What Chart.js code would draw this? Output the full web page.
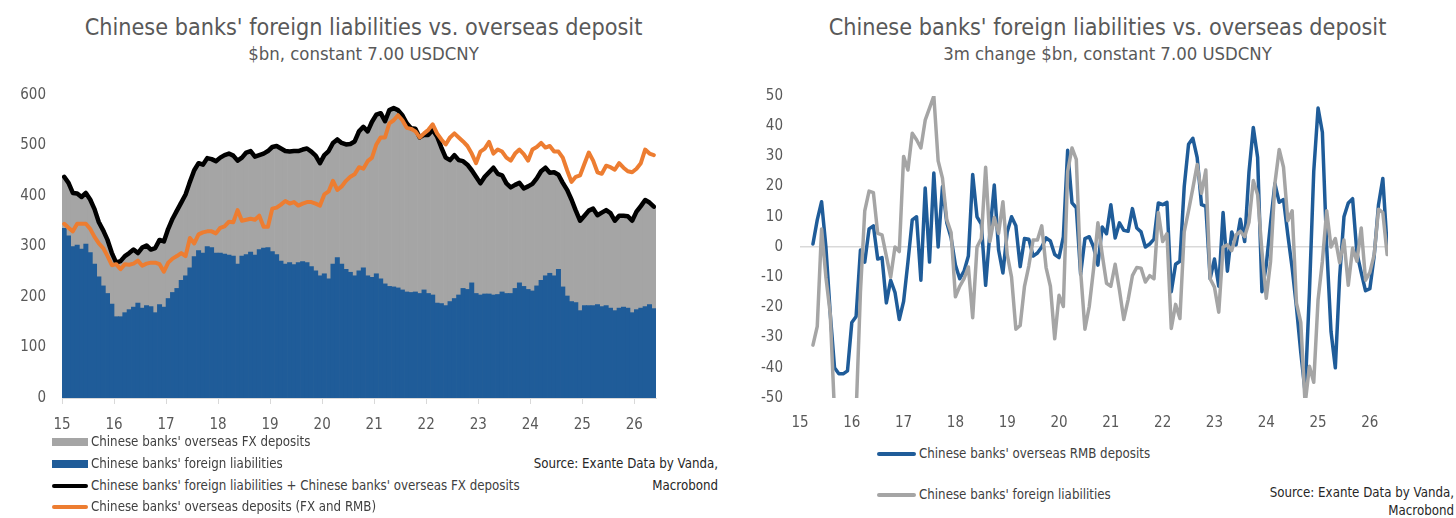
<!DOCTYPE html>
<html>
<head>
<meta charset="utf-8">
<script src="https://cdn.jsdelivr.net/npm/chart.js@4.4.1/dist/chart.umd.min.js"></script>
<style>
  body { margin: 0; width: 1456px; height: 518px; background: #fff; position: relative; overflow: hidden;
         font-family: "Liberation Sans Narrow", "DejaVu Sans Condensed", sans-serif; color: #595959; }
  .title { position: absolute; font-size: 23.2px; line-height: 28px; text-align: center; white-space: nowrap; }
  .sub { position: absolute; font-size: 18.4px; line-height: 22px; text-align: center; white-space: nowrap; }
  .box { position: absolute; }
  .leg { position: absolute; font-size: 13.2px; line-height: 18px; color: #404040; white-space: nowrap; }
  .leg i { position: absolute; display: block; }
  .src { position: absolute; font-size: 13.2px; color: #262626; text-align: right; white-space: nowrap; }
</style>
</head>
<body>
<div class="title" style="left:0; width:727px; top:13px;">Chinese banks' foreign liabilities vs. overseas deposit</div>
<div class="sub" style="left:0; width:727px; top:43px;">$bn, constant 7.00 USDCNY</div>
<div class="title" style="left:754px; width:707px; top:13px;">Chinese banks' foreign liabilities vs. overseas deposit</div>
<div class="sub" style="left:754px; width:707px; top:43px;">3m change $bn, constant 7.00 USDCNY</div>

<div class="box" style="left:0; top:70px;"><canvas id="levels" width="680" height="368"></canvas></div>
<div class="box" style="left:730px; top:70px;"><canvas id="changes" width="726" height="368"></canvas></div>

<div id="legendLeft"></div>
<div id="legendRight"></div>

<div class="src" style="right:738px; top:453px; line-height:22px;">Source: Exante Data by Vanda,<br>Macrobond</div>
<div class="src" style="right:2px; top:484px; line-height:18px;">Source: Exante Data by Vanda,<br>Macrobond</div>

<script>
// monthly, Jan 2015 - May 2026, $bn
const foreignLiab = [
  336, 321, 300, 303, 295, 305, 288, 265, 240, 222, 207, 186,
  161, 161, 169, 175, 180, 188, 178, 183, 181, 169, 185, 180,
  197, 209, 217, 233, 242, 258, 280, 292, 287, 300, 298, 287,
  287, 285, 283, 281, 265, 281, 284, 289, 283, 294, 297, 298,
  290, 284, 271, 265, 268, 264, 268, 270, 268, 260, 252, 242,
  246, 236, 265, 278, 265, 255, 249, 242, 252, 258, 242, 239,
  246, 236, 226, 221, 220, 218, 214, 210, 209, 210, 207, 214,
  207, 204, 188, 187, 183, 191, 197, 204, 217, 215, 228, 207,
  204, 206, 206, 204, 205, 210, 207, 207, 217, 228, 221, 215,
  212, 222, 233, 242, 247, 242, 255, 220, 202, 191, 189, 173,
  183, 183, 183, 185, 181, 183, 178, 173, 178, 180, 178, 169,
  175, 178, 181, 185, 177
];
// foreign liabilities + overseas FX deposits
const liabPlusFx = [
  438, 426, 406, 405, 398, 406, 393, 374, 348, 332, 313, 287,
  268, 271, 281, 287, 294, 287, 298, 302, 294, 297, 313, 310,
  335, 355, 371, 387, 403, 428, 451, 465, 462, 475, 473, 469,
  476, 481, 484, 480, 470, 476, 486, 489, 478, 481, 484, 489,
  497, 499, 494, 489, 488, 489, 489, 492, 494, 488, 480, 465,
  481, 489, 505, 512, 505, 502, 503, 508, 528, 537, 528, 547,
  561, 564, 548, 570, 574, 570, 560, 544, 534, 533, 516, 521,
  521, 531, 518, 496, 476, 471, 481, 471, 469, 462, 451, 438,
  425, 438, 447, 456, 444, 441, 425, 417, 422, 426, 415, 419,
  424, 435, 449, 456, 446, 447, 442, 426, 412, 393, 371, 351,
  361, 371, 375, 362, 367, 372, 366, 351, 361, 361, 360, 351,
  369, 380, 392, 387, 379
];
// overseas deposits (FX and RMB)
const depositsAll = [
  345, 337, 330, 345, 345, 345, 335, 319, 306, 297, 281, 263,
  265, 255, 265, 264, 266, 272, 262, 266, 268, 268, 265, 250,
  268, 276, 281, 287, 281, 317, 306, 324, 328, 330, 330, 326,
  337, 340, 349, 348, 372, 351, 353, 355, 353, 361, 339, 339,
  375, 377, 383, 390, 385, 388, 381, 385, 388, 388, 385, 381,
  403, 409, 430, 412, 419, 430, 438, 443, 457, 454, 469, 476,
  502, 516, 516, 544, 550, 560, 550, 535, 533, 528, 516, 524,
  531, 542, 524, 512, 502, 516, 524, 516, 508, 499, 484, 465,
  488, 494, 507, 484, 492, 488, 476, 470, 484, 492, 483, 470,
  492, 497, 505, 496, 499, 488, 488, 476, 451, 428, 438, 441,
  464, 486, 470, 447, 444, 460, 457, 452, 465, 456, 449, 447,
  454, 465, 492, 484, 481
];

// 3m change, Apr 2015 - May 2026
const changeStart = 3;
const rmbChange = [
  1, 9, 15, 0, -22, -40, -42, -42, -41, -25, -23, -1,
  -5, 6, 7, -4, -3.5, -18.5, -11, -15, -24, -18, -5, 9,
  10, -11, 19.5, -5, 24.5, 0, 20, 8, 3, -6, -10.5, -8,
  -3, 24, 10, 7.6, -12.7, 5, 20.5, -1, -8.6, 5, 10, 7,
  -6.5, 2.8, 2.6, -3, -2, 0, 3, 2, -2.5, -3.5, 3.4, 32,
  14.6, 13, -9, 2.8, 3.4, 0, -6, 6.6, 4.4, 14, 3, 8,
  5.5, 5.2, 12.7, 6.3, 5, 0, 1, 2.6, 14.6, 14, 14.8, -14.8,
  -5.7, -4.7, 20, 34, 36, 29.6, 14, 13.5, -10.5, -4, -13, 11.4,
  -8, 5, 0.7, 9.2, 1.8, 24.8, 39.6, 29.6, -14.8, -6, 8, 21,
  14.8, 15.7, 4, -7, -20, -35, -48, -15, 25, 46, 38, 0,
  -28, -40, -10, 10, 14.6, 16, -2, -8.5, -14.5, -13.8, -3, 14,
  22.7, 0
];
const liabChange = [
  -32.5, -26.3, 6, -10, -22, -55, -65, -65, -60, -55, -55, -15,
  12, 18.5, 18, 4.5, 4, -3, -10, 0, -1.5, 30, 25.5, 37.7,
  35.5, 32.8, 42, 46, 50, 28.5, 22.8, 9, 4.8, -16.5, -13, -10.5,
  -6.6, -23.4, 0, 2.8, 26.4, 1.8, 9.8, 4.5, 15, -2.5, -10, -27.2,
  -26, -13, -6.3, 2.3, 2.3, 7, -6.8, -13, -30.4, -16, -19.7, 25,
  32.8, 29, -8, -27.2, -19.7, -7.3, 8, -2.5, -12, -13, -5.7, -14.3,
  -24, -17.5, -9.5, -6.8, -7, -11.6, -9.5, -10.5, 11.4, 1.8, 4.4, -27,
  -19, -23.7, 5, 12, 19.5, 27.3, 17.8, 25.5, -10.5, -13.3, -21.6, 0,
  0.7, -1.2, 4, 5.2, 3.4, 8.2, 22, 17.3, -1.4, -17, -4.7, 21,
  32.3, 26.4, 8.7, 12, -18.6, -25, -52, -39.5, -44.8, -17.5, -4.7, 12,
  0, 2.8, -5.2, 2.3, -12.7, -0.4, -4.7, 6.3, -11, -8.4, -2.5, 12.5,
  11.4, -2.5
];

const labelsLeft = [
  "Chinese banks' overseas FX deposits",
  "Chinese banks' foreign liabilities",
  "Chinese banks' foreign liabilities + Chinese banks' overseas FX deposits",
  "Chinese banks' overseas deposits (FX and RMB)"
];
const labelsRight = [
  "Chinese banks' overseas RMB deposits",
  "Chinese banks' foreign liabilities"
];

const BLUE = '#1F5C99', GREY = '#A5A5A5', ORANGE = '#ED7D31', BLACK = '#000000';
const FONT = '"Liberation Sans Narrow", "DejaVu Sans Condensed", sans-serif';

Chart.defaults.font.family = FONT;
Chart.defaults.font.size = 15;
Chart.defaults.color = '#595959';

// month positions in years ("15" = Jan 2015)
function monthly(values, start, mid) {
  return values.map((v, i) => ({ x: 15 + (i + start + (mid ? 0.5 : 0)) / 12, y: v }));
}

function lineSet(label, data, color, width, order) {
  return {
    type: 'line', label: label, data: data, borderColor: color, borderWidth: width,
    pointRadius: 0, tension: 0, borderJoinStyle: 'round', borderCapStyle: 'round', order: order
  };
}

function barSet(label, data, color, order) {
  return {
    type: 'bar', label: label, data: data, backgroundColor: color, borderWidth: 0,
    grouped: false, barPercentage: 1, categoryPercentage: 1, order: order
  };
}

new Chart(document.getElementById('levels'), {
  type: 'bar',
  data: {
    datasets: [
      barSet(labelsLeft[0], monthly(liabPlusFx, 0, true), GREY, 3),
      barSet(labelsLeft[1], monthly(foreignLiab, 0, true), BLUE, 2),
      lineSet(labelsLeft[2], monthly(liabPlusFx, 0, true), BLACK, 4.5, 1),
      lineSet(labelsLeft[3], monthly(depositsAll, 0, true), ORANGE, 4, 0)
    ]
  },
  options: {
    responsive: false,
    animation: false,
    layout: { padding: { top: 16, right: 24, bottom: 0, left: 0 } },
    plugins: { legend: { display: false }, tooltip: { enabled: false } },
    scales: {
      x: {
        type: 'linear', min: 15, max: 15 + foreignLiab.length / 12, offset: false,
        ticks: { stepSize: 1, includeBounds: false, padding: 12, callback: v => v },
        grid: { display: true, drawOnChartArea: false, drawTicks: true, tickLength: 6, color: '#D9D9D9', offset: false },
        border: { display: true, color: '#D9D9D9' },
        afterFit: s => { s.height = 40; }
      },
      y: {
        min: 0, max: 600,
        ticks: { stepSize: 100, padding: 16 },
        grid: { display: false, drawTicks: false },
        border: { display: false },
        afterFit: s => { s.width = 62; }
      }
    }
  }
});

new Chart(document.getElementById('changes'), {
  type: 'line',
  data: {
    datasets: [
      lineSet(labelsRight[0], monthly(rmbChange, changeStart, false), BLUE, 3.5, 1),
      lineSet(labelsRight[1], monthly(liabChange, changeStart, false), GREY, 3.5, 0)
    ]
  },
  options: {
    responsive: false,
    animation: false,
    layout: { padding: { top: 16, right: 68, bottom: 0, left: 0 } },
    plugins: { legend: { display: false }, tooltip: { enabled: false } },
    scales: {
      x: {
        type: 'linear', min: 15, max: 26.35,
        ticks: { stepSize: 1, includeBounds: false, padding: 8, callback: v => v },
        grid: { display: false },
        border: { display: false },
        afterFit: s => { s.height = 40; }
      },
      y: {
        min: -50, max: 50,
        ticks: { stepSize: 10, padding: 17 },
        grid: {
          drawTicks: false, lineWidth: 1.5,
          color: c => (c.tick && c.tick.value === 0) ? '#D9D9D9' : 'rgba(0,0,0,0)'
        },
        border: { display: false },
        afterFit: s => { s.width = 70; }
      }
    }
  }
});

// legends (vertical, as in the original)
function legendRow(host, text, kind, color, left, top, w) {
  const row = document.createElement('div');
  row.className = 'leg';
  row.style.left = (left + w + 3) + 'px';
  row.style.top = (top - 9) + 'px';
  row.textContent = text;
  const mark = document.createElement('i');
  mark.style.left = (-w - 3) + 'px';
  mark.style.width = w + 'px';
  mark.style.background = color;
  if (kind === 'box') { mark.style.top = '5px'; mark.style.height = '8px'; }
  else { mark.style.top = '7px'; mark.style.height = '4px'; mark.style.borderRadius = '2px'; }
  row.appendChild(mark);
  host.appendChild(row);
}

const legL = document.getElementById('legendLeft');
legendRow(legL, labelsLeft[0], 'box', GREY, 52, 442, 36);
legendRow(legL, labelsLeft[1], 'box', BLUE, 52, 464, 36);
legendRow(legL, labelsLeft[2], 'line', BLACK, 52, 486, 36);
legendRow(legL, labelsLeft[3], 'line', ORANGE, 52, 507, 36);

const legR = document.getElementById('legendRight');
legendRow(legR, labelsRight[0], 'line', BLUE, 877, 454, 39);
legendRow(legR, labelsRight[1], 'line', GREY, 877, 495, 39);
</script>
</body>
</html>
